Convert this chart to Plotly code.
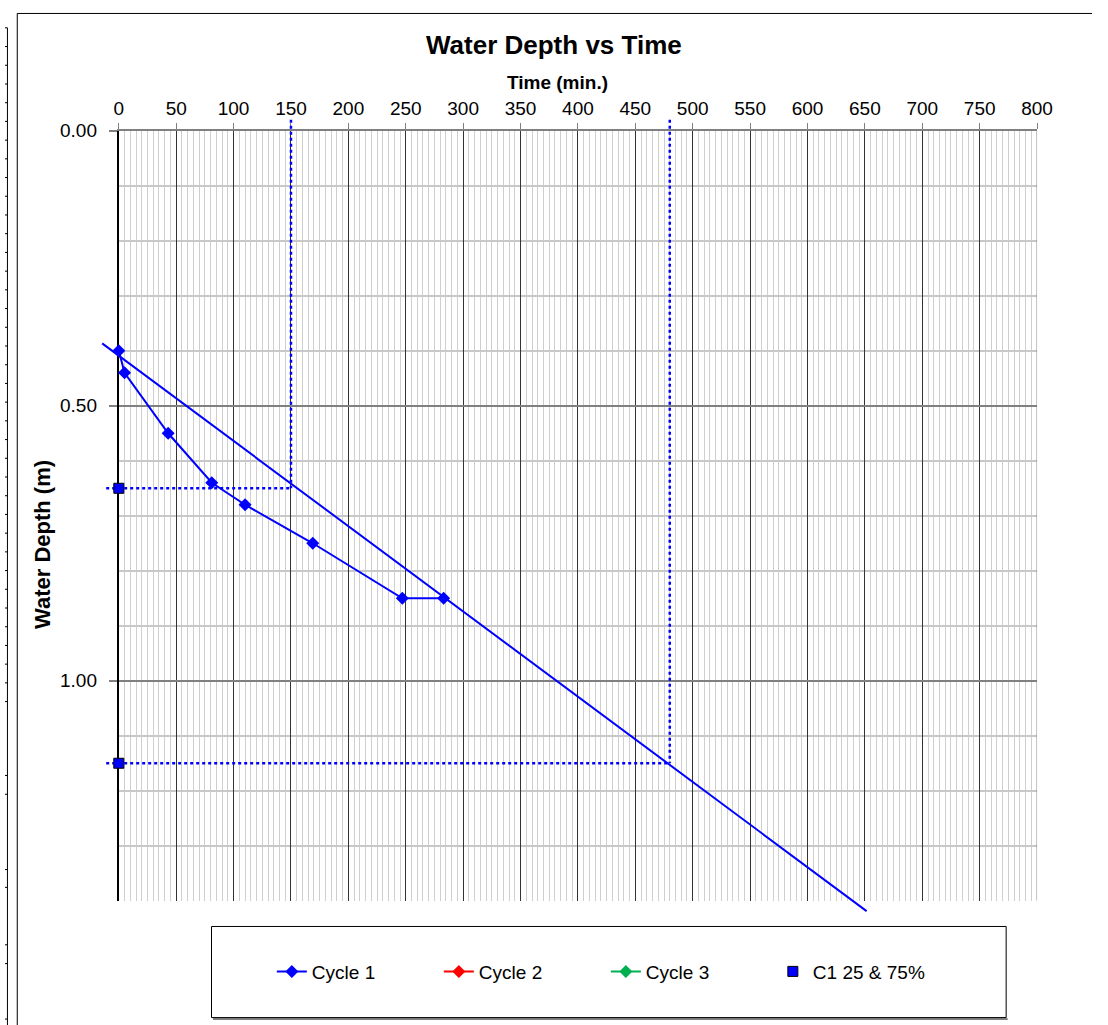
import plotly.graph_objects as go

# ---- data -------------------------------------------------------------
cycle1_time = [0, 5, 43, 81, 110, 169, 247, 283]          # min
cycle1_depth = [0.40, 0.44, 0.55, 0.64, 0.68, 0.75, 0.85, 0.85]  # m
cycle2_time, cycle2_depth = [], []
cycle3_time, cycle3_depth = [], []

# 25 % and 75 % effective-depth points for cycle 1
c1_pct_depth = [0.65, 1.15]
c1_pct_time = [150, 480]

# straight-line fit of cycle 1, drawn past both ends of the data
trend_intercept = 0.409
trend_slope = 0.00155
trend_t_start, trend_t_end = -14.5, 651.5

x_ticks = list(range(0, 801, 50))
y_ticks = [0.0, 0.5, 1.0]

# ---- layout geometry (pixels) -----------------------------------------
W, H = 1108, 1025
PX0, PX1 = 116, 1052      # plot area left / right
PY0, PY1 = 122, 899.5     # plot area top / bottom
X_MAX, Y_MAX = 800, 1.4

FONT = "Liberation Sans, Arial, sans-serif"
BLUE = "#0000FF"


def px(x):
    return x / W


def py(y):
    return 1 - y / H


# full-figure overlay axes so the fit line and guides can run past the frame
t_per_px = X_MAX / (PX1 - PX0)
d_per_px = Y_MAX / (PY1 - PY0)
ov_x_range = [-PX0 * t_per_px, X_MAX + (W - PX1) * t_per_px]
ov_y_range = [Y_MAX + (H - PY1) * d_per_px, -PY0 * d_per_px]

fig = go.Figure()

trend_t = [trend_t_start, trend_t_end]
trend_d = [trend_intercept + trend_slope * t for t in trend_t]
fig.add_trace(go.Scatter(
    x=trend_t, y=trend_d, mode="lines", showlegend=False,
    line=dict(color=BLUE, width=2), xaxis="x2", yaxis="y2", hoverinfo="skip"))

# dotted guides: from the depth axis across to the fit, and down from the top
guide_left = -11
guide_top = -0.02
for t, d in zip(c1_pct_time, c1_pct_depth):
    fig.add_trace(go.Scatter(
        x=[guide_left, t], y=[d, d], mode="lines", showlegend=False,
        line=dict(color=BLUE, width=2.5, dash="dot"), xaxis="x2", yaxis="y2"))
    fig.add_trace(go.Scatter(
        x=[t, t], y=[guide_top, d], mode="lines", showlegend=False,
        line=dict(color=BLUE, width=2.5, dash="dot"), xaxis="x2", yaxis="y2"))

fig.add_trace(go.Scatter(
    x=cycle1_time, y=cycle1_depth, name="Cycle 1", mode="lines+markers",
    line=dict(color=BLUE, width=2),
    marker=dict(symbol="diamond", size=10, color=BLUE),
    xaxis="x2", yaxis="y2"))
fig.add_trace(go.Scatter(
    x=cycle2_time or [None], y=cycle2_depth or [None], name="Cycle 2",
    mode="lines+markers", line=dict(color="#FF0000", width=2),
    marker=dict(symbol="diamond", size=10, color="#FF0000"),
    xaxis="x2", yaxis="y2"))
fig.add_trace(go.Scatter(
    x=cycle3_time or [None], y=cycle3_depth or [None], name="Cycle 3",
    mode="lines+markers", line=dict(color="#00B050", width=2),
    marker=dict(symbol="diamond", size=10, color="#00B050"),
    xaxis="x2", yaxis="y2"))
fig.add_trace(go.Scatter(
    x=[0] * len(c1_pct_depth), y=c1_pct_depth, name="C1 25 & 75%",
    mode="markers",
    marker=dict(symbol="square", size=10, color=BLUE,
                line=dict(color="#000000", width=1)),
    xaxis="x2", yaxis="y2"))

# ---- decorations ------------------------------------------------------
shapes = []
# strip of a neighbouring sheet grid at the far left
shapes.append(dict(type="line", xref="paper", yref="paper",
                   x0=px(2.5), x1=px(2.5), y0=py(18), y1=py(H),
                   line=dict(color="#000000", width=1)))
row_marks = [18 + 18.9 * k for k in range(37)] + [773, 792, 868, 886, 944, 963, 1019]
for r in row_marks:
    shapes.append(dict(type="line", xref="paper", yref="paper",
                       x0=0, x1=px(2.5), y0=py(r), y1=py(r),
                       line=dict(color="#000000", width=1)))
# chart area border
shapes.append(dict(type="line", xref="paper", yref="paper",
                   x0=px(12.5), x1=px(12.5), y0=py(3.5), y1=py(H),
                   line=dict(color="#000000", width=1)))
shapes.append(dict(type="line", xref="paper", yref="paper",
                   x0=px(12.5), x1=px(W), y0=py(3.5), y1=py(3.5),
                   line=dict(color="#000000", width=1)))
# legend frame with shadow
shapes.append(dict(type="line", xref="paper", yref="paper",
                   x0=px(212), x1=px(1022), y0=py(1019), y1=py(1019),
                   line=dict(color="#808080", width=2)))
shapes.append(dict(type="rect", xref="paper", yref="paper",
                   x0=px(210.5), x1=px(1020.5), y0=py(925.5), y1=py(1017.5),
                   line=dict(color="#000000", width=1), fillcolor="rgba(0,0,0,0)"))
# right edge of the grid
shapes.append(dict(type="line", xref="x", yref="y",
                   x0=X_MAX, x1=X_MAX, y0=0, y1=Y_MAX,
                   line=dict(color="#808080", width=1)))

annotations = [
    dict(text="<b>Water Depth vs Time</b>", xref="paper", yref="paper",
         x=px(560), y=py(35), showarrow=False, xanchor="center", yanchor="middle",
         font=dict(family=FONT, size=26, color="#000000")),
    dict(text="<b>Time (min.)</b>", xref="paper", yref="paper",
         x=px(563), y=py(73), showarrow=False, xanchor="center", yanchor="middle",
         font=dict(family=FONT, size=19, color="#000000")),
    dict(text="<b>Water Depth (m)</b>", xref="paper", yref="paper",
         x=px(38), y=py(540), showarrow=False, xanchor="center", yanchor="middle",
         textangle=-90, font=dict(family=FONT, size=22, color="#000000")),
]

fig.update_layout(
    width=W, height=H,
    margin=dict(l=0, r=0, t=0, b=0),
    paper_bgcolor="#FFFFFF", plot_bgcolor="rgba(0,0,0,0)",
    font=dict(family=FONT, size=19, color="#000000"),
    showlegend=True,
    legend=dict(orientation="h", x=px(272), y=py(971), xanchor="left", yanchor="middle",
                entrywidth=122, entrywidthmode="pixels",
                font=dict(family=FONT, size=19, color="#000000"),
                bgcolor="rgba(0,0,0,0)", borderwidth=0),
    xaxis=dict(domain=[px(PX0), px(PX1)], range=[0, X_MAX], side="top",
               tickmode="array", tickvals=x_ticks, ticktext=[str(v) for v in x_ticks],
               ticks="outside", ticklen=6, tickcolor="#808080", tickwidth=1,
               showline=True, linecolor="#808080", linewidth=2,
               showgrid=True, gridcolor="#333333", gridwidth=1,
               minor=dict(dtick=5, tick0=0, showgrid=True, gridcolor="#cfcfcf", gridwidth=1),
               zeroline=False, anchor="y",
               tickfont=dict(family=FONT, size=19, color="#000000")),
    yaxis=dict(domain=[py(PY1), py(PY0)], range=[Y_MAX, 0],
               tickmode="array", tickvals=y_ticks, ticktext=[f"{v:.2f}" for v in y_ticks],
               ticks="outside", ticklen=8, tickcolor="#808080", tickwidth=2,
               ticklabelstandoff=8,
               showline=True, linecolor="#000000", linewidth=2,
               showgrid=True, gridcolor="#808080", gridwidth=2,
               minor=dict(dtick=0.1, tick0=0, showgrid=True, gridcolor="#c8c8c8", gridwidth=2),
               zeroline=False, anchor="x",
               tickfont=dict(family=FONT, size=19, color="#000000")),
    xaxis2=dict(domain=[0, 1], range=ov_x_range, visible=False, anchor="y2",
                showgrid=False, zeroline=False),
    yaxis2=dict(domain=[0, 1], range=ov_y_range, visible=False, anchor="x2",
                showgrid=False, zeroline=False),
    shapes=shapes,
    annotations=annotations,
)

fig.write_html("out.html")
